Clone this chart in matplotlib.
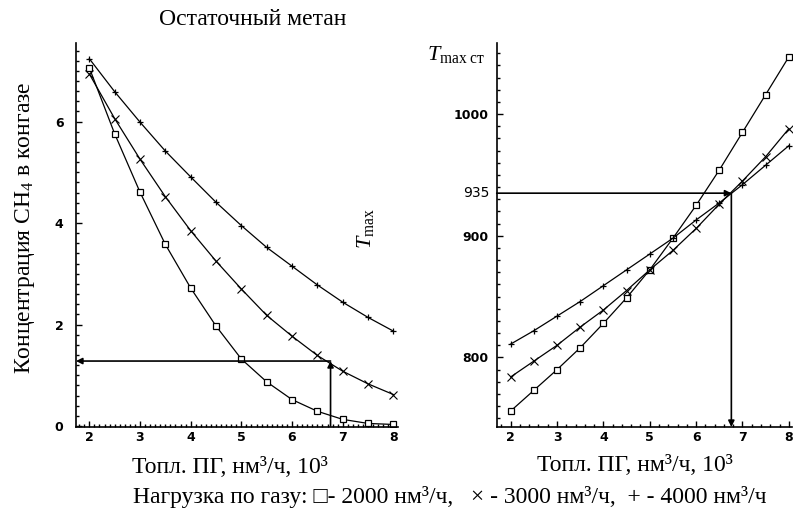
import numpy as np
import matplotlib
matplotlib.use('Agg')
import matplotlib.pyplot as plt
from matplotlib.ticker import MultipleLocator

plt.rcParams['font.family'] = ['Liberation Serif', 'DejaVu Sans']
plt.rcParams['mathtext.fontset'] = 'custom'
plt.rcParams['mathtext.rm'] = 'Liberation Serif'
plt.rcParams['mathtext.it'] = 'Liberation Serif:italic'

# fuel gas flow, 10^3 nm3/h
fuel = [2, 2.5, 3, 3.5, 4, 4.5, 5, 5.5, 6, 6.5, 7, 7.5, 8]

# residual CH4 in converted gas, by gas load
ch4_2000 = [7.06, 5.76, 4.61, 3.58, 2.72, 1.97, 1.32, 0.87, 0.52, 0.29, 0.13, 0.05, 0.03]
ch4_3000 = [6.94, 6.06, 5.26, 4.52, 3.85, 3.25, 2.70, 2.18, 1.77, 1.39, 1.08, 0.83, 0.62]
ch4_4000 = [7.24, 6.59, 5.99, 5.42, 4.91, 4.41, 3.95, 3.52, 3.15, 2.78, 2.44, 2.14, 1.87]

# max wall temperature, by gas load
t_2000 = [756, 773, 790, 808, 828, 849, 872, 898, 925, 954, 985, 1016, 1047]
t_3000 = [784, 797, 810, 825, 839, 855, 872, 888, 906, 926, 945, 965, 988]
t_4000 = [811, 822, 834, 846, 859, 872, 885, 898, 913, 927, 942, 958, 974]

# read-off point
read_x = 6.76
read_ch4 = 1.28
read_t = 935

line_kw = dict(color='black', lw=0.9, mfc='white', mec='black')

fig = plt.figure(figsize=(7.94, 5.11), dpi=100)
ax1 = fig.add_axes([0.0957, 0.1644, 0.4055, 0.7515])
ax2 = fig.add_axes([0.6256, 0.1644, 0.372, 0.7515])

# left: residual methane
ax1.plot(fuel, ch4_2000, marker='s', ms=4, mew=0.9, **line_kw)
ax1.plot(fuel, ch4_3000, marker='x', ms=5.5, mew=0.8, **line_kw)
ax1.plot(fuel, ch4_4000, marker='+', ms=5, mew=0.9, **line_kw)
ax1.set_xlim(1.737, 8.09)
ax1.set_ylim(-0.02, 7.55)
ax1.set_yticks([0, 2, 4, 6])
ax1.set_xticks(range(2, 9))
ax1.yaxis.set_minor_locator(MultipleLocator(0.2))
ax1.xaxis.set_minor_locator(MultipleLocator(0.1))
ax1.annotate('', xy=(ax1.get_xlim()[0], read_ch4), xytext=(read_x, read_ch4),
             arrowprops=dict(arrowstyle='-|>', color='black', lw=1.2,
                             mutation_scale=9, shrinkA=0, shrinkB=0))
ax1.annotate('', xy=(read_x, read_ch4), xytext=(read_x, 0),
             arrowprops=dict(arrowstyle='-|>', color='black', lw=1.2,
                             mutation_scale=9, shrinkA=0, shrinkB=0))

# right: max wall temperature
ax2.plot(fuel, t_2000, marker='s', ms=4, mew=0.9, **line_kw)
ax2.plot(fuel, t_3000, marker='x', ms=5.5, mew=0.8, **line_kw)
ax2.plot(fuel, t_4000, marker='+', ms=5, mew=0.9, **line_kw)
ax2.set_xlim(1.70, 8.07)
ax2.set_ylim(742.9, 1058.4)
ax2.set_yticks([800, 900, 1000])
ax2.set_xticks(range(2, 9))
ax2.yaxis.set_minor_locator(MultipleLocator(10))
ax2.xaxis.set_minor_locator(MultipleLocator(0.2))
ax2.annotate('', xy=(read_x, read_t), xytext=(ax2.get_xlim()[0], read_t),
             arrowprops=dict(arrowstyle='-|>', color='black', lw=1.2,
                             mutation_scale=9, shrinkA=0, shrinkB=0))
ax2.annotate('', xy=(read_x, ax2.get_ylim()[0]), xytext=(read_x, read_t),
             arrowprops=dict(arrowstyle='-|>', color='black', lw=1.2,
                             mutation_scale=9, shrinkA=0, shrinkB=0))
ax2.text(-0.025, read_t, str(read_t), transform=ax2.get_yaxis_transform(),
         ha='right', va='center', fontsize=10, family='DejaVu Sans')

for ax, pad in ((ax1, 9), (ax2, 6)):
    for s in ('top', 'right'):
        ax.spines[s].set_visible(False)
    ax.spines['left'].set_linewidth(1.2)
    ax.spines['bottom'].set_linewidth(1.2)
    ax.tick_params(which='both', direction='in', width=1)
    ax.tick_params(which='major', length=4)
    ax.tick_params(which='minor', length=2.5)
    ax.tick_params(axis='y', pad=pad)
    ax.tick_params(axis='x', pad=3)
    for lab in ax.get_xticklabels() + ax.get_yticklabels():
        lab.set_family('DejaVu Sans')
        lab.set_weight('bold')
        lab.set_fontsize(9)

fig.text(0.318, 0.962, 'Остаточный метан', ha='center', va='center', fontsize=17)
fig.text(0.032, 0.555, 'Концентрация CH$_\\mathrm{4}$ в конгазе', rotation=90,
         ha='center', va='center', fontsize=17)
fig.text(0.460, 0.552, '$T_\\mathrm{max}$', rotation=90, ha='center', va='center',
         fontsize=16)
fig.text(0.574, 0.893, '$T_\\mathrm{max\\ ст}$', ha='center', va='center', fontsize=16)
fig.text(0.290, 0.086, 'Топл. ПГ, нм³/ч, 10³', ha='center', va='center', fontsize=17)
fig.text(0.800, 0.090, 'Топл. ПГ, нм³/ч, 10³', ha='center', va='center', fontsize=17)
fig.text(0.567, 0.027, 'Нагрузка по газу: □- 2000 нм³/ч,   × - 3000 нм³/ч,  + - 4000 нм³/ч',
         ha='center', va='center', fontsize=17)

fig.savefig('out.png', dpi=100)
